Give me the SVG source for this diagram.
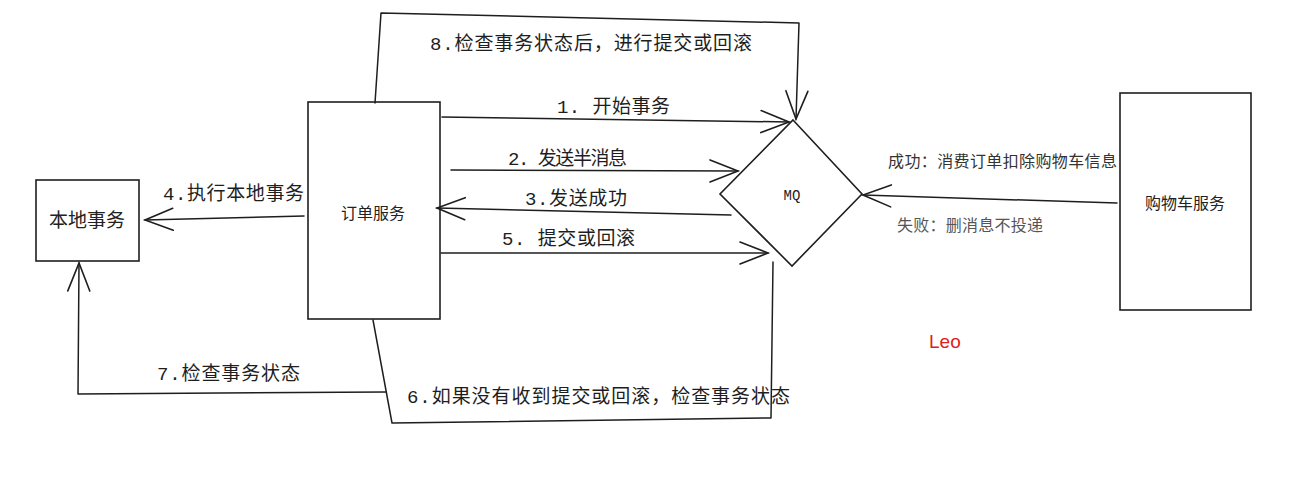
<svg xmlns="http://www.w3.org/2000/svg" width="1316" height="493" viewBox="0 0 1316 493">
<style>
.box{fill:#fff;stroke:#1e1e1e;stroke-width:1.6}
.ln{fill:none;stroke:#1e1e1e;stroke-width:1.5;stroke-linejoin:round;stroke-linecap:round}
.lbl{font-family:"Liberation Mono","Noto Sans CJK SC",monospace;font-size:19px;fill:#1e1e1e}
.nt{font-family:"Noto Sans CJK SC","Noto Sans",sans-serif;fill:#222;text-anchor:middle}
.note{font-family:"Noto Sans CJK SC","Noto Sans",sans-serif;font-size:16px}
</style>
<defs>
<marker id="ah" markerUnits="userSpaceOnUse" markerWidth="40" markerHeight="30" viewBox="-32 -15 36 30" refX="0" refY="0" orient="auto">
<path d="M-28,-11 L0,0 L-28,11" fill="none" stroke="#1e1e1e" stroke-width="1.6" stroke-linecap="round"/>
</marker>
</defs>
<rect width="1316" height="493" fill="#fff"/>

<g id="local-tx">
<rect class="box" x="36" y="180" width="103" height="81"/>
<text class="nt" x="87" y="227" font-size="19">本地事务</text>
</g>
<g id="order-service">
<rect class="box" x="308" y="102" width="132" height="217"/>
<text class="nt" x="373" y="219" font-size="16">订单服务</text>
</g>
<g id="mq">
<polygon class="box" points="793,120 862,194 792,266 720,194"/>
<text x="792" y="200" font-family="Liberation Mono,monospace" font-size="14" fill="#222" text-anchor="middle">MQ</text>
</g>
<g id="cart-service">
<rect class="box" x="1120" y="93" width="131" height="217"/>
<text class="nt" x="1185" y="209" font-size="16">购物车服务</text>
</g>

<g id="connectors">
<path class="ln" d="M375,103 L381,13 L799,23 L796,119" marker-end="url(#ah)"/>
<path class="ln" d="M442,117 L789,122" marker-end="url(#ah)"/>
<path class="ln" d="M451,170 L738,171" marker-end="url(#ah)"/>
<path class="ln" d="M731,215 L437,208" marker-end="url(#ah)"/>
<path class="ln" d="M441,253 L768,253" marker-end="url(#ah)"/>
<path class="ln" d="M304,216 L145,220" marker-end="url(#ah)"/>
<path class="ln" d="M1117,203 L863,195" marker-end="url(#ah)"/>
<path class="ln" d="M373,320 L392,423 L771,418 L773,262"/>
<path class="ln" d="M386,392 L78,394 L79,263" marker-end="url(#ah)"/>
</g>

<g id="labels">
<text class="lbl" x="430" y="50" textLength="322">8.检查事务状态后，进行提交或回滚</text>
<text class="lbl" x="557" y="113" textLength="113">1. 开始事务</text>
<text class="lbl" x="508" y="165" textLength="119">2. 发送半消息</text>
<text class="lbl" x="525" y="205" textLength="102">3.发送成功</text>
<text class="lbl" x="502" y="245" textLength="133">5. 提交或回滚</text>
<text class="lbl" x="163" y="200" textLength="141">4.执行本地事务</text>
<text class="lbl" x="157" y="380" textLength="143">7.检查事务状态</text>
<text class="lbl" x="407" y="403" textLength="383">6.如果没有收到提交或回滚，检查事务状态</text>
<text class="note" x="888" y="167" fill="#333" textLength="229">成功：消费订单扣除购物车信息</text>
<text class="note" x="897" y="231" fill="#555" textLength="146">失败：删消息不投递</text>
<text x="929" y="348" font-family="Liberation Sans,Arial,sans-serif" font-size="19" fill="#e0201a">Leo</text>
</g>
</svg>
